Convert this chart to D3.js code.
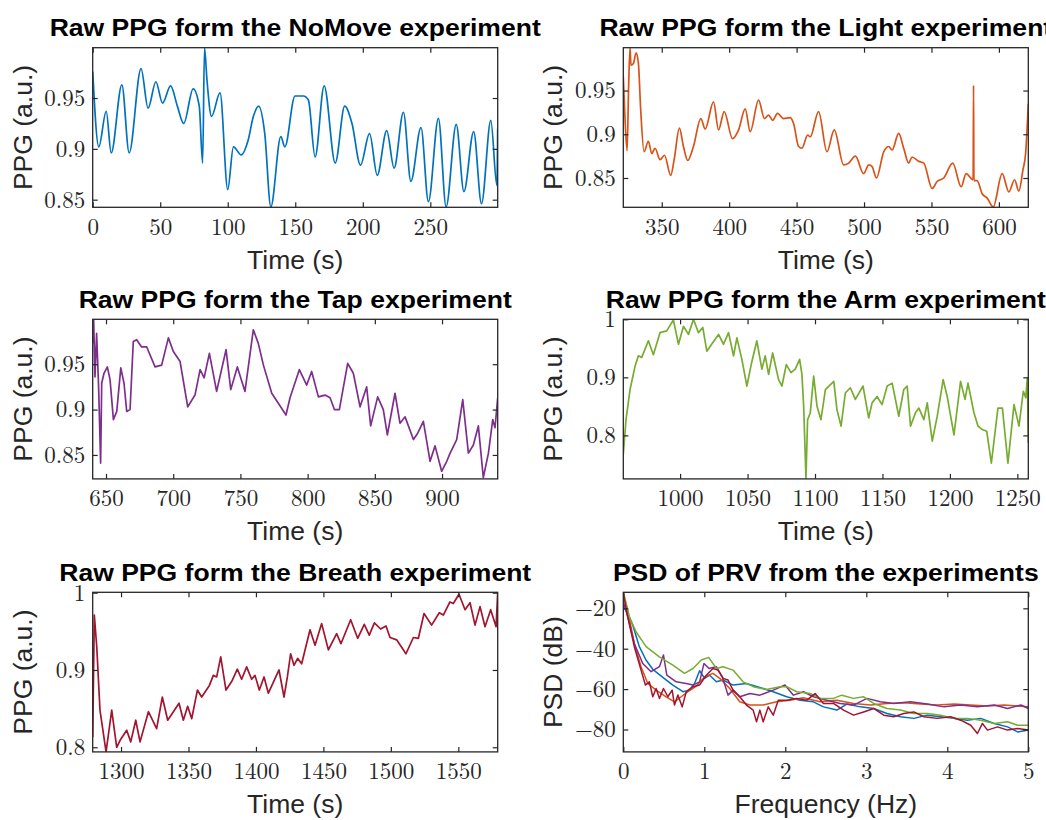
<!DOCTYPE html>
<html>
<head>
<meta charset="utf-8">
<script src="https://cdn.jsdelivr.net/npm/d3@7"></script>
<style>
body { margin: 0; background: #fff; }
svg { display: block; background: #fff; }
.tick text { font-family: "Latin Modern Roman", "CMU Serif", "Liberation Serif", serif; font-size: 23px; fill: #262626; }
.tick line { stroke: #262626; stroke-width: 1.2; }
.lbl { font-family: "Liberation Sans", Arial, Helvetica, sans-serif; font-size: 26.5px; fill: #262626; }
.ttl { font-family: "Liberation Sans", Arial, Helvetica, sans-serif; font-size: 23.5px; font-weight: bold; fill: #000; }
</style>
</head>
<body>
<svg></svg>
<script>
// raw PPG traces, [time (s), value (a.u.)]
var noMove = [[0,0.976],[4.5,0.902],[10,0.937],[13.7,0.896],[21.6,0.963],[27,0.896],[35.8,0.979],[41,0.940],[46.8,0.966],[51.7,0.945],[57.7,0.962],[62.7,0.942],[67.4,0.925],[74.4,0.959],[78.9,0.942],[81.4,0.886],[82.8,0.9995],[84.6,0.968],[88,0.932],[94.3,0.955],[100,0.860],[104.2,0.902],[110,0.894],[115,0.908],[119,0.932],[122.9,0.942],[127.4,0.915],[131.9,0.843],[139.3,0.912],[142.3,0.902],[149.8,0.952],[156,0.952],[159.7,0.948],[164.7,0.892],[171.4,0.962],[179.6,0.886],[186.6,0.942],[192,0.925],[198.3,0.884],[205,0.915],[210.7,0.874],[217.7,0.918],[223.2,0.881],[230.1,0.936],[235.6,0.868],[243.1,0.921],[248.6,0.848],[256,0.930],[261.7,0.843],[269.2,0.924],[274.9,0.858],[282.1,0.917],[287.9,0.846],[294.8,0.928],[299.3,0.864],[299.9,0.920]]

var light = [[321.5,0.966],[322.3,0.9355],[324.3,0.881],[325.5,0.958],[326.5,0.999],[327.2,0.979],[329,0.981],[331,0.993],[332.7,0.981],[334.4,0.928],[336.9,0.880],[340.1,0.892],[342.6,0.878],[345,0.884],[348.8,0.871],[352,0.876],[356.7,0.853],[359.2,0.871],[363.1,0.907],[366.1,0.886],[369.3,0.870],[373.5,0.886],[379,0.918],[382.2,0.906],[388.4,0.937],[392.1,0.905],[396.3,0.926],[402.5,0.895],[407,0.905],[411.9,0.929],[415.6,0.903],[421.8,0.939],[426.2,0.918],[429.2,0.922],[432.2,0.916],[435.9,0.924],[440.3,0.918],[445.3,0.919],[447.8,0.912],[451.5,0.886],[453.9,0.884],[458.2,0.899],[460.1,0.897],[466.3,0.926],[472.5,0.880],[477.9,0.905],[484.9,0.865],[488.6,0.867],[493.6,0.875],[499.7,0.855],[503.5,0.865],[506,0.863],[509.2,0.850],[514.6,0.880],[518.3,0.886],[520.8,0.882],[525.7,0.901],[529.4,0.884],[533.1,0.867],[535.6,0.874],[540.6,0.869],[544.3,0.867],[550.5,0.838],[554.2,0.846],[559.1,0.850],[565.8,0.867],[572,0.840],[575.7,0.855],[580.9,0.848],[581.2,0.956],[581.5,0.847],[583.8,0.847],[587.6,0.832],[591.3,0.827],[595.8,0.817],[602.4,0.855],[607.4,0.834],[611.6,0.848],[614.8,0.835],[617.8,0.859],[619.8,0.878],[621.8,0.935]]

var tap = [[640.1,0.973],[640.8,0.9987],[641.8,0.936],[643,0.984],[644.5,0.925],[646,0.841],[646.8,0.929],[648.5,0.940],[651,0.947],[653,0.933],[655.5,0.889],[658,0.898],[661,0.946],[663.4,0.929],[665.4,0.898],[667.9,0.900],[670.3,0.975],[672.8,0.977],[676.5,0.969],[680.3,0.969],[686.5,0.947],[691.4,0.949],[696.4,0.979],[700.1,0.964],[705.1,0.953],[710.8,0.903],[716.2,0.916],[720,0.944],[723,0.935],[726.9,0.962],[732.3,0.920],[739.3,0.966],[742.8,0.922],[747.7,0.947],[753.4,0.920],[759.6,0.988],[763.3,0.973],[767.1,0.949],[773.3,0.918],[778.2,0.907],[783.9,0.894],[786.9,0.913],[793.8,0.944],[799.3,0.927],[803,0.942],[808,0.914],[813,0.916],[816.7,0.913],[819.9,0.900],[823.6,0.900],[829.8,0.951],[834,0.940],[839,0.903],[843.9,0.925],[846.9,0.882],[852.1,0.914],[856.3,0.900],[859.3,0.872],[865,0.918],[868.7,0.885],[872.5,0.892],[878.7,0.867],[881.9,0.874],[886.1,0.887],[891.1,0.843],[894.8,0.860],[899.7,0.832],[903.5,0.843],[906,0.852],[910.9,0.867],[915.4,0.911],[919.6,0.852],[923.3,0.861],[927,0.882],[930.7,0.825],[934.5,0.852],[937.7,0.889],[939.4,0.880],[941.4,0.913]]

var arm = [[957.9,0.767],[959.9,0.827],[962.9,0.879],[966.6,0.919],[969.1,0.937],[971.5,0.934],[976.5,0.963],[980.2,0.939],[985.1,0.977],[990.1,0.980],[995,0.999],[998.8,0.957],[1002.5,0.988],[1006.2,0.974],[1009.9,1.0],[1013.6,0.977],[1016.8,0.986],[1019.8,0.945],[1024.3,0.960],[1028.5,0.974],[1032.2,0.957],[1035.9,0.977],[1039.6,0.937],[1042.1,0.968],[1045.8,0.931],[1049.5,0.885],[1052.7,0.922],[1056.9,0.963],[1060.6,0.914],[1063.1,0.937],[1065.6,0.905],[1068.6,0.942],[1073,0.896],[1075.5,0.885],[1078.7,0.922],[1082.2,0.908],[1085.4,0.914],[1088.6,0.931],[1090.3,0.905],[1091.6,0.850],[1093.3,0.726],[1094.5,0.827],[1096.5,0.839],[1099,0.902],[1101.5,0.850],[1104.4,0.827],[1107.7,0.879],[1113.9,0.893],[1116.3,0.844],[1119.3,0.816],[1122.5,0.873],[1126.2,0.882],[1129.9,0.862],[1135.6,0.885],[1139.8,0.830],[1142.3,0.856],[1146,0.867],[1149.7,0.853],[1153.5,0.885],[1157.2,0.890],[1162.1,0.833],[1165.8,0.879],[1168.3,0.885],[1170.8,0.816],[1174.5,0.839],[1177,0.847],[1180.7,0.827],[1183.2,0.856],[1186.9,0.790],[1190.6,0.833],[1195,0.896],[1198,0.867],[1203,0.801],[1207.9,0.893],[1211.2,0.862],[1213.4,0.890],[1217.8,0.839],[1220.8,0.816],[1224,0.810],[1227.3,0.807],[1230.7,0.752],[1235.6,0.847],[1238.9,0.847],[1243,0.752],[1247.5,0.853],[1251.2,0.816],[1254.4,0.876],[1256.2,0.865],[1257.4,0.899],[1258.1,0.787]]

var breath = [[1279,0.813],[1280.2,0.971],[1282,0.930],[1284.4,0.848],[1288.9,0.794],[1293.1,0.848],[1296.8,0.800],[1299.3,0.809],[1304.2,0.822],[1307.2,0.807],[1310.9,0.835],[1314.1,0.807],[1320.3,0.846],[1326.4,0.824],[1330.6,0.865],[1334.6,0.835],[1338.8,0.846],[1343,0.857],[1346.2,0.835],[1349.4,0.853],[1352.4,0.837],[1356.6,0.874],[1359.8,0.865],[1365.5,0.880],[1368.4,0.893],[1370.9,0.891],[1373.9,0.917],[1377.8,0.874],[1382,0.885],[1386.2,0.901],[1389.4,0.888],[1393.1,0.904],[1396.8,0.888],[1399.3,0.893],[1402.5,0.874],[1406,0.891],[1409.2,0.870],[1417.1,0.900],[1420.8,0.865],[1423.3,0.891],[1425.7,0.921],[1428.2,0.906],[1430.9,0.915],[1433.9,0.908],[1440.1,0.952],[1443.8,0.932],[1448.7,0.960],[1453.7,0.926],[1459.8,0.947],[1463,0.934],[1470.2,0.965],[1475.4,0.941],[1480.3,0.959],[1484,0.945],[1487.8,0.961],[1492.4,0.953],[1496.4,0.957],[1499.4,0.942],[1504.3,0.939],[1511.2,0.921],[1516.7,0.942],[1520.4,0.941],[1524.6,0.973],[1530.2,0.958],[1535.9,0.974],[1538.9,0.971],[1543.8,0.988],[1546.3,0.986],[1550.5,0.998],[1555,0.978],[1558.7,0.987],[1562.4,0.958],[1566.1,0.982],[1569.8,0.956],[1574,0.978],[1578,0.956],[1579.2,1.0]]

// PSD of PRV, [frequency (Hz), dB]
var psdNoMove = [[0,-19.2],[0.054,-22.5],[0.116,-28.3],[0.198,-39],[0.28,-45.6],[0.364,-50.2],[0.488,-54.2],[0.612,-58],[0.736,-61.3],[0.818,-60.5],[0.88,-57.2],[0.942,-50.9],[1.004,-54.7],[1.066,-53.1],[1.149,-56.4],[1.231,-55.5],[1.355,-58],[1.52,-57.2],[1.686,-59.2],[1.851,-61.3],[2.017,-63.8],[2.182,-65.5],[2.347,-66.3],[2.471,-68.8],[2.636,-70.4],[2.76,-67.4],[2.926,-68.8],[3.091,-69.6],[3.256,-72.1],[3.421,-73.7],[3.587,-74.5],[3.752,-72.9],[3.917,-73.7],[4.083,-74.5],[4.248,-75.4],[4.413,-74.5],[4.579,-77],[4.744,-78.7],[4.868,-81.2],[5,-80.3]]
var psdLight = [[0,-12.6],[0.054,-20.8],[0.136,-37.4],[0.219,-48.9],[0.302,-57.2],[0.405,-60.5],[0.529,-63.8],[0.632,-66.3],[0.715,-63.8],[0.798,-61.3],[0.901,-58.5],[1.004,-53.9],[1.107,-52.2],[1.19,-54.7],[1.314,-59.7],[1.438,-66.3],[1.562,-67.9],[1.727,-67.9],[1.893,-66.3],[2.058,-65.5],[2.223,-64.3],[2.43,-66.3],[2.636,-65.5],[2.843,-67.1],[3.05,-67.9],[3.256,-67.1],[3.463,-66.8],[3.669,-67.4],[3.876,-67.9],[4.083,-67.4],[4.289,-67.9],[4.496,-68.4],[4.702,-67.9],[5,-68.8]]
var psdTap = [[0,-16.7],[0.054,-24.1],[0.136,-37.4],[0.24,-47.3],[0.343,-51.4],[0.446,-48.9],[0.496,-43.1],[0.537,-53.1],[0.653,-56.4],[0.777,-57.2],[0.86,-58],[0.942,-56.4],[0.996,-47.3],[1.058,-49.8],[1.149,-48.9],[1.223,-53.9],[1.293,-63],[1.355,-60.5],[1.438,-63.8],[1.562,-62.2],[1.686,-63],[1.851,-60.5],[1.996,-58],[2.1,-63],[2.223,-61.3],[2.347,-63.8],[2.512,-65.5],[2.678,-67.1],[2.843,-67.9],[3.008,-64.6],[3.174,-66.3],[3.339,-67.1],[3.545,-66.3],[3.752,-67.4],[3.959,-68.8],[4.165,-67.9],[4.372,-68.8],[4.579,-67.9],[4.744,-69.6],[4.909,-67.9],[5,-69.6]]
var psdArm = [[0,-11.7],[0.074,-24.1],[0.157,-31.6],[0.281,-39],[0.446,-44],[0.612,-48.1],[0.756,-52.2],[0.86,-49.8],[0.963,-45.6],[1.054,-44.3],[1.149,-49.8],[1.231,-48.9],[1.355,-50.6],[1.479,-56.4],[1.603,-58.8],[1.769,-60.2],[1.934,-58.8],[2.017,-58.8],[2.14,-61.3],[2.306,-62.2],[2.43,-64.6],[2.595,-64.6],[2.698,-63],[2.843,-64.6],[2.967,-63.8],[3.091,-67.1],[3.256,-69.6],[3.421,-70.4],[3.587,-72.1],[3.752,-72.1],[3.917,-72.9],[4.083,-74.5],[4.248,-74.5],[4.413,-75.4],[4.579,-77],[4.744,-76.2],[4.868,-77.9],[5,-77.9]]
var psdBreath = [[0,-12.6],[0.054,-24.1],[0.136,-39],[0.219,-50.6],[0.273,-58],[0.322,-56.4],[0.364,-63.8],[0.405,-59.7],[0.446,-64.6],[0.496,-59.7],[0.55,-63.8],[0.603,-60.5],[0.632,-67.9],[0.674,-62.9],[0.727,-68.8],[0.777,-61.3],[0.86,-58.8],[0.942,-58],[1.025,-53.1],[1.107,-49.8],[1.169,-50.6],[1.231,-54.7],[1.293,-55.5],[1.355,-60.5],[1.438,-63.8],[1.521,-67.9],[1.603,-70.4],[1.645,-76.2],[1.686,-70.4],[1.727,-76.2],[1.789,-68.8],[1.851,-72.9],[1.913,-65.5],[2.017,-65.5],[2.14,-64.6],[2.264,-65.5],[2.368,-62.2],[2.471,-67.1],[2.595,-67.1],[2.719,-70.4],[2.843,-72.9],[2.967,-71.3],[3.091,-69.6],[3.215,-72.9],[3.339,-73.7],[3.463,-72.1],[3.587,-71.3],[3.711,-73.7],[3.876,-74.5],[4.041,-73.7],[4.165,-75.4],[4.289,-77.9],[4.372,-82],[4.434,-77],[4.496,-80.3],[4.62,-78.7],[4.744,-80.3],[4.868,-79.5],[5,-80.3]]

// tick labels
var ticksNoMove = [0, 50, 100, 150, 200, 250]
var ticksLight = [350, 400, 450, 500, 550, 600]
var ticksTap = [650, 700, 750, 800, 850, 900]
var ticksArm = [1000, 1050, 1100, 1150, 1200, 1250]
var ticksBreath = [1300, 1350, 1400, 1450, 1500, 1550]
var ticksFreq = [0, 1, 2, 3, 4, 5]
var ticksPpgA = [0.85, 0.9, 0.95]
var ticksPpgB = [0.8, 0.9, 1]
var ticksPsd = [-80, -60, -40, -20]

var colors = ["#0072BD", "#D95319", "#7E2F8E", "#77AC30", "#A2142F"]

var width = 1046,
    height = 820
var colLeft = [92.7, 623.3],
    rowTop = [47.7, 319.3, 592.3]
var boxW = 405,
    boxH = 159.6

var svg = d3.select("svg")
    .attr("width", width)
    .attr("height", height)

// smooth = rounded sinusoid-like traces, otherwise straight segments
var panels = [
    { title: "Raw PPG form the NoMove experiment", col: 0, row: 0, x: [0, 299.9], y: [0.8425, 0.9995], xt: ticksNoMove, yt: ticksPpgA, series: [noMove], c: [colors[0]], smooth: true },
    { title: "Raw PPG form the Light experiment", col: 1, row: 0, x: [321.5, 621.8], y: [0.8165, 0.999], xt: ticksLight, yt: ticksPpgA, series: [light], c: [colors[1]], smooth: true },
    { title: "Raw PPG form the Tap experiment", col: 0, row: 1, x: [640.1, 941.4], y: [0.8236, 0.9995], xt: ticksTap, yt: ticksPpgA, series: [tap], c: [colors[2]] },
    { title: "Raw PPG form the Arm experiment", col: 1, row: 1, x: [957.9, 1258.1], y: [0.725, 1.0], xt: ticksArm, yt: ticksPpgB, series: [arm], c: [colors[3]] },
    { title: "Raw PPG form the Breath experiment", col: 0, row: 2, x: [1279, 1579.2], y: [0.794, 1.0005], xt: ticksBreath, yt: ticksPpgB, series: [breath], c: [colors[4]] },
    { title: "PSD of PRV from the experiments", col: 1, row: 2, x: [0, 5], y: [-91.1, -12.07], xt: ticksFreq, yt: ticksPsd,
      series: [psdNoMove, psdLight, psdTap, psdArm, psdBreath], c: colors, psd: true }
]

function fmt(d) {
    return String(d).replace("-", "\u2212")
}

panels.forEach(function(p, i) {
    var g = svg.append("g")
        .attr("transform", "translate(" + colLeft[p.col] + "," + rowTop[p.row] + ")")

    var x = d3.scaleLinear().domain(p.x).range([0, boxW])
    var y = d3.scaleLinear().domain(p.y).range([boxH, 0])

    g.append("clipPath")
        .attr("id", "clip" + i)
        .append("rect")
        .attr("width", boxW)
        .attr("height", boxH)

    var line = d3.line()
        .x(function(d) { return x(d[0]) })
        .y(function(d) { return y(d[1]) })
        .curve(p.smooth ? d3.curveMonotoneX : d3.curveLinear)

    g.append("g")
        .attr("clip-path", "url(#clip" + i + ")")
        .selectAll("path")
        .data(p.series)
        .enter()
        .append("path")
        .attr("d", line)
        .attr("fill", "none")
        .attr("stroke", function(d, k) { return p.c[k] })
        .attr("stroke-width", p.psd ? 1.5 : 1.7)
        .attr("stroke-linejoin", "round")

    // ticks point inward on all four sides
    g.append("g")
        .attr("transform", "translate(0," + boxH + ")")
        .call(d3.axisBottom(x).tickValues(p.xt).tickFormat(fmt).tickSizeInner(-5).tickSizeOuter(0).tickPadding(11))
    g.append("g")
        .call(d3.axisTop(x).tickValues(p.xt).tickFormat("").tickSizeInner(-5).tickSizeOuter(0))
    g.append("g")
        .call(d3.axisLeft(y).tickValues(p.yt).tickFormat(fmt).tickSizeInner(-5).tickSizeOuter(0).tickPadding(7.5))
    g.append("g")
        .attr("transform", "translate(" + boxW + ",0)")
        .call(d3.axisRight(y).tickValues(p.yt).tickFormat("").tickSizeInner(-5).tickSizeOuter(0))
    g.selectAll(".domain").remove()

    g.append("rect")
        .attr("width", boxW)
        .attr("height", boxH)
        .attr("fill", "none")
        .attr("stroke", "#262626")
        .attr("stroke-width", 1.3)

    g.append("text")
        .attr("class", "lbl")
        .attr("text-anchor", "middle")
        .attr("x", boxW / 2)
        .attr("y", boxH + 61.5)
        .text(p.psd ? "Frequency (Hz)" : "Time (s)")

    g.append("text")
        .attr("class", "lbl")
        .attr("text-anchor", "middle")
        .attr("transform", "translate(-61," + boxH / 2 + ")rotate(-90)")
        .text(p.psd ? "PSD (dB)" : "PPG (a.u.)")

    g.append("text")
        .attr("class", "ttl")
        .attr("text-anchor", "middle")
        .attr("transform", "translate(" + boxW / 2 + ",-11.5)scale(1.13,1)")
        .text(p.title)
})
</script>
</body>
</html>
